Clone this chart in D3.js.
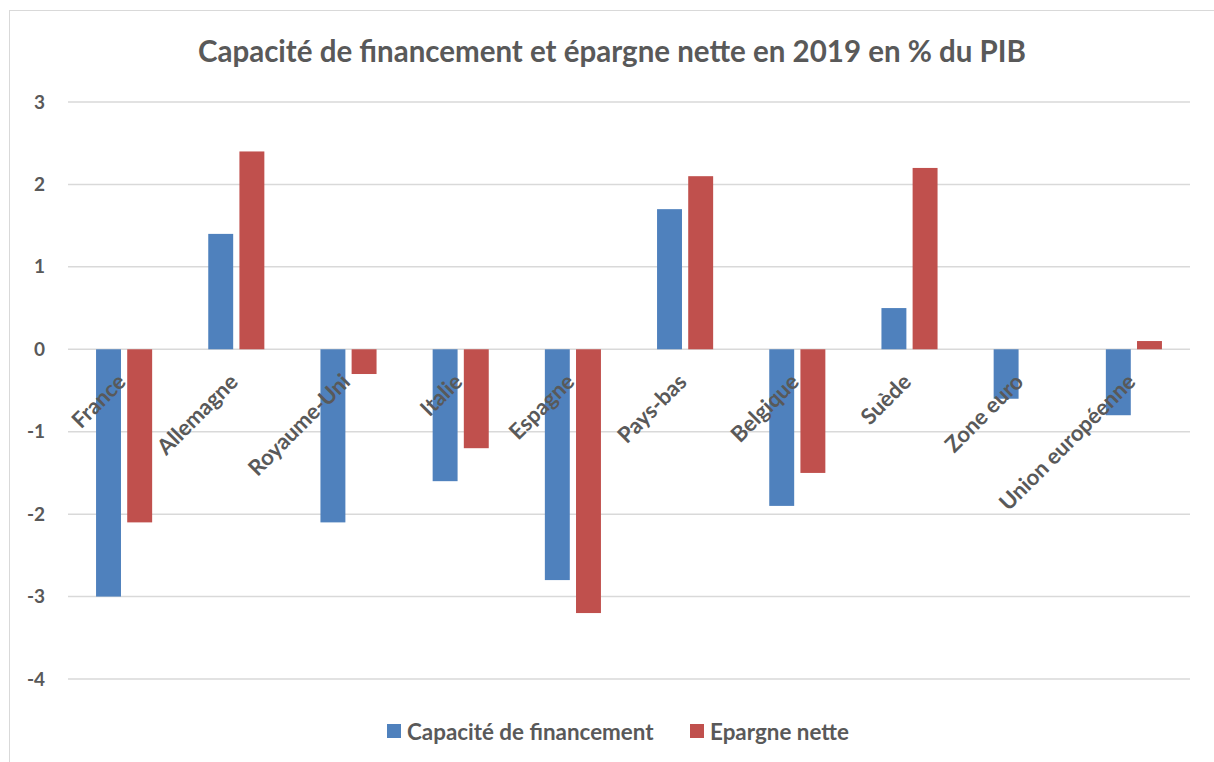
<!DOCTYPE html>
<html>
<head>
<meta charset="utf-8">
<script src="https://cdn.jsdelivr.net/npm/d3@7"></script>
<style>
  body { margin: 0; background: #fff; }
  text { font-family: Lato, "Open Sans", sans-serif; font-weight: bold; fill: #595959; }
</style>
</head>
<body>
<div id="chart"></div>
<script>
// Data
const categories = ["France", "Allemagne", "Royaume-Uni", "Italie", "Espagne",
                    "Pays-bas", "Belgique", "Suède", "Zone euro", "Union européenne"];
const series = ["Capacité de financement", "Epargne nette"];
const capacite = [-3.0, 1.4, -2.1, -1.6, -2.8, 1.7, -1.9, 0.5, -0.6, -0.8];
const epargne  = [-2.1, 2.4, -0.3, -1.2, -3.2, 2.1, -1.5, 2.2, 0, 0.1];
const yTicks = [3, 2, 1, 0, -1, -2, -3, -4];
const title = "Capacité de financement et épargne nette en 2019 en % du PIB";

const W = 1214, H = 762;
const margin = { top: 102, right: 24, bottom: 83, left: 68 },
      width = W - margin.left - margin.right,
      height = H - margin.top - margin.bottom;

const svg = d3.select("#chart")
              .append("svg")
              .attr("width", W)
              .attr("height", H);

// outer chart border
svg.append("rect")
   .attr("x", 9.5).attr("y", 10.5)
   .attr("width", W + 10).attr("height", H + 10)
   .attr("fill", "none")
   .attr("stroke", "#d9d9d9");

const g = svg.append("g")
             .attr("transform", `translate(${margin.left},${margin.top})`);

const color = d3.scaleOrdinal().domain(series).range(["#4f81bd", "#c0504d"]);

const x0 = d3.scaleBand().domain(categories).range([0, width]).padding(0);
const x1 = d3.scaleBand()
             .domain(series)
             .range([x0.bandwidth() * 0.25, x0.bandwidth() * 0.75])
             .paddingInner(0.2);

const y = d3.scaleLinear().domain([-4, 3]).range([height, 0]);

// gridlines
g.append("g")
 .selectAll("line")
 .data(yTicks)
 .join("line")
 .attr("x1", 0).attr("x2", width)
 .attr("y1", d => y(d)).attr("y2", d => y(d))
 .attr("stroke", "#d9d9d9")
 .attr("stroke-width", 1.5);

// y axis labels (plain hyphen for negatives, like the source)
const yAxis = g.append("g")
               .call(d3.axisLeft(y).tickValues(yTicks).tickSize(0).tickPadding(23)
                       .tickFormat(d => String(d)));
yAxis.select(".domain").remove();
yAxis.selectAll("text")
     .style("font-family", "Lato, sans-serif")
     .style("font-weight", "bold")
     .style("font-size", "19px")
     .attr("fill", "#595959");

// bars
const rows = categories.map((c, i) => ({ cat: c, vals: [capacite[i], epargne[i]] }));

const groups = g.selectAll("g.layer")
                .data(rows)
                .join("g")
                .attr("class", "layer")
                .attr("transform", d => `translate(${x0(d.cat)},0)`);

groups.selectAll("rect")
      .data(d => series.map((s, j) => ({ s: s, v: d.vals[j] })))
      .join("rect")
      .attr("x", d => x1(d.s))
      .attr("y", d => y(Math.max(0, d.v)))
      .attr("width", x1.bandwidth())
      .attr("height", d => Math.abs(y(d.v) - y(0)))
      .attr("fill", d => color(d.s));

// category labels, rotated at the zero line
g.append("g")
 .selectAll("text")
 .data(categories)
 .join("text")
 .attr("text-anchor", "end")
 .attr("transform", d => `translate(${x0(d) + x0.bandwidth() / 2 + 3},${y(0) + 34}) rotate(-45)`)
 .style("font-size", "22px")
 .text(d => d);

// title
svg.append("text")
   .attr("x", 612)
   .attr("y", 62)
   .attr("text-anchor", "middle")
   .style("font-size", "29.5px")
   .text(title);

// legend
const legend = svg.append("g").attr("transform", "translate(387,731)");
const legendX = [0, 303];
series.forEach((s, i) => {
  const item = legend.append("g").attr("transform", `translate(${legendX[i]},0)`);
  item.append("rect")
      .attr("x", 0).attr("y", -7)
      .attr("width", 14).attr("height", 14)
      .attr("fill", color(s));
  item.append("text")
      .attr("x", 20)
      .attr("y", 0)
      .attr("dominant-baseline", "central")
      .style("font-size", "22.4px")
      .text(s);
});
</script>
</body>
</html>
